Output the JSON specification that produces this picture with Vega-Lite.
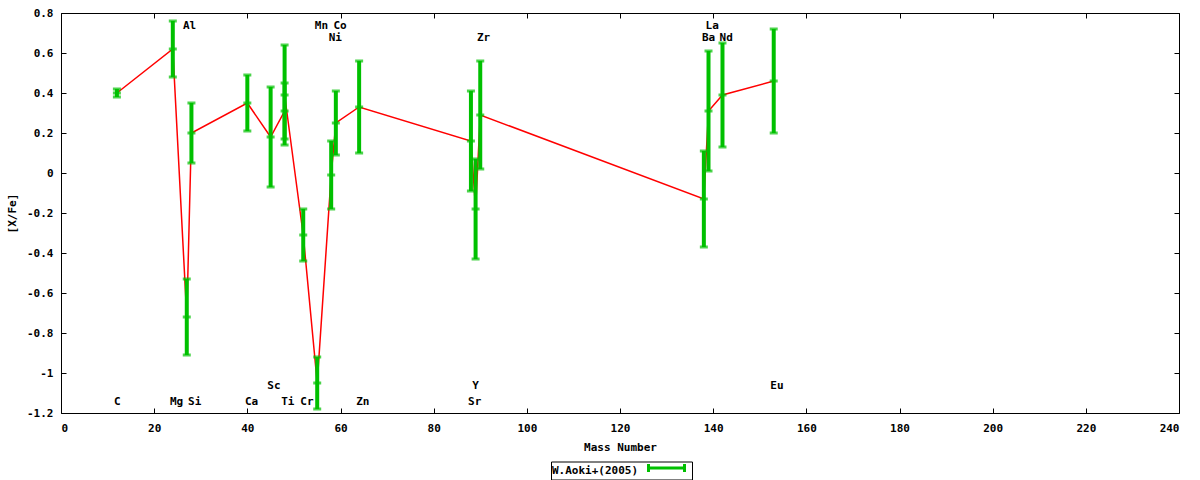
{
  "$schema": "https://vega.github.io/schema/vega-lite/v6.json",
  "width": 1118,
  "height": 400,
  "autosize": {"type": "none"},
  "padding": {"left": 61, "top": 13, "right": 21, "bottom": 67},
  "background": "white",
  "config": {
    "view": {"stroke": "#000", "strokeWidth": 1},
    "font": "DejaVu Sans Mono",
    "axis": {
      "grid": false,
      "domain": false,
      "tickSize": -5,
      "tickColor": "#000",
      "labelFont": "DejaVu Sans Mono",
      "labelFontWeight": "bold",
      "labelFontSize": 11,
      "labelColor": "#000",
      "titleFont": "DejaVu Sans Mono",
      "titleFontWeight": "bold",
      "titleFontSize": 11,
      "titleColor": "#000"
    }
  },
  "datasets": {
    "pts": [
      {"ord": 1, "el": "C", "mass": 12, "val": 0.40, "lo": 0.38, "hi": 0.42},
      {"ord": 2, "el": "Mg", "mass": 24, "val": 0.62, "lo": 0.48, "hi": 0.76},
      {"ord": 3, "el": "Al", "mass": 27, "val": -0.72, "lo": -0.91, "hi": -0.53},
      {"ord": 4, "el": "Si", "mass": 28, "val": 0.20, "lo": 0.05, "hi": 0.35},
      {"ord": 5, "el": "Ca", "mass": 40, "val": 0.35, "lo": 0.21, "hi": 0.49},
      {"ord": 6, "el": "Sc", "mass": 45, "val": 0.18, "lo": -0.07, "hi": 0.43},
      {"ord": 7, "el": "Ti", "mass": 48, "val": 0.31, "lo": 0.17, "hi": 0.45},
      {"ord": 8, "el": "Ti", "mass": 48, "val": 0.39, "lo": 0.14, "hi": 0.64},
      {"ord": 9, "el": "Cr", "mass": 52, "val": -0.31, "lo": -0.44, "hi": -0.18},
      {"ord": 10, "el": "Mn", "mass": 55, "val": -1.05, "lo": -1.18, "hi": -0.92},
      {"ord": 11, "el": "Ni", "mass": 58, "val": -0.01, "lo": -0.18, "hi": 0.16},
      {"ord": 12, "el": "Co", "mass": 59, "val": 0.25, "lo": 0.09, "hi": 0.41},
      {"ord": 13, "el": "Zn", "mass": 64, "val": 0.33, "lo": 0.10, "hi": 0.56},
      {"ord": 14, "el": "Sr", "mass": 88, "val": 0.16, "lo": -0.09, "hi": 0.41},
      {"ord": 15, "el": "Y", "mass": 89, "val": -0.18, "lo": -0.43, "hi": 0.07},
      {"ord": 16, "el": "Zr", "mass": 90, "val": 0.29, "lo": 0.02, "hi": 0.56},
      {"ord": 17, "el": "Ba", "mass": 138, "val": -0.13, "lo": -0.37, "hi": 0.11},
      {"ord": 18, "el": "La", "mass": 139, "val": 0.31, "lo": 0.01, "hi": 0.61},
      {"ord": 19, "el": "Nd", "mass": 142, "val": 0.39, "lo": 0.13, "hi": 0.65},
      {"ord": 20, "el": "Eu", "mass": 153, "val": 0.46, "lo": 0.20, "hi": 0.72}
    ],
    "labels": [
      {"el": "Al", "lx": 27.6, "ly": 0.735},
      {"el": "Mn", "lx": 55.9, "ly": 0.735},
      {"el": "Co", "lx": 59.9, "ly": 0.735},
      {"el": "La", "lx": 139.8, "ly": 0.735},
      {"el": "Ni", "lx": 58.9, "ly": 0.675},
      {"el": "Zr", "lx": 90.7, "ly": 0.675},
      {"el": "Ba", "lx": 139.0, "ly": 0.675},
      {"el": "Nd", "lx": 142.8, "ly": 0.675},
      {"el": "Sc", "lx": 45.7, "ly": -1.067},
      {"el": "Y", "lx": 89.0, "ly": -1.067},
      {"el": "Eu", "lx": 153.7, "ly": -1.067},
      {"el": "C", "lx": 12.1, "ly": -1.147},
      {"el": "Mg", "lx": 24.8, "ly": -1.147},
      {"el": "Si", "lx": 28.7, "ly": -1.147},
      {"el": "Ca", "lx": 40.9, "ly": -1.147},
      {"el": "Ti", "lx": 48.7, "ly": -1.147},
      {"el": "Cr", "lx": 52.8, "ly": -1.147},
      {"el": "Zn", "lx": 64.8, "ly": -1.147},
      {"el": "Sr", "lx": 88.8, "ly": -1.147}
    ]
  },
  "layer": [
    {
      "data": {"name": "pts"},
      "mark": {"type": "line", "color": "#ff0000", "strokeWidth": 1.5},
      "encoding": {
        "x": {
          "field": "mass", "type": "quantitative",
          "scale": {"domain": [0, 240], "nice": false, "zero": false},
          "axis": {"orient": "bottom", "values": [0, 20, 40, 60, 80, 100, 120, 140, 160, 180, 200, 220, 240], "format": "d", "title": "Mass Number", "labelPadding": 14, "titlePadding": 8}
        },
        "y": {
          "field": "val", "type": "quantitative",
          "scale": {"domain": [-1.2, 0.8], "nice": false, "zero": false},
          "axis": {"orient": "left", "values": [-1.2, -1, -0.8, -0.6, -0.4, -0.2, 0, 0.2, 0.4, 0.6, 0.8], "labelExpr": "datum.value < 0 ? '-' + format(-datum.value, '~g') : format(datum.value, '~g')", "title": "[X/Fe]", "labelPadding": 13, "titlePadding": 9}
        },
        "order": {"field": "ord", "type": "quantitative"}
      }
    },
    {
      "data": {"name": "pts"},
      "mark": {"type": "rule", "strokeWidth": 4},
      "encoding": {
        "x": {"field": "mass", "type": "quantitative", "axis": null},
        "y": {"field": "lo", "type": "quantitative", "axis": null},
        "y2": {"field": "hi"},
        "color": {
          "datum": "W.Aoki+(2005)", "type": "nominal",
          "scale": {"range": ["#00c000"]},
          "legend": {
            "orient": "none", "legendX": 490, "legendY": 448.5,
            "title": "W.Aoki+(2005)", "titleOrient": "left",
            "titleFont": "DejaVu Sans Mono", "titleFontWeight": "bold", "titleFontSize": 11, "titleColor": "#000",
            "titlePadding": 22,
            "labelExpr": "''", "labelOffset": 0,
            "symbolType": "M-4.5,-1V1M-4.5,0H4.5M4.5,-1V1",
            "symbolSize": 64, "symbolStrokeWidth": 3,
            "strokeColor": "#000", "padding": 1
          }
        }
      }
    },
    {
      "data": {"name": "pts"},
      "mark": {"type": "tick", "orient": "horizontal", "color": "#00c000", "size": 8, "thickness": 3},
      "encoding": {
        "x": {"field": "mass", "type": "quantitative", "axis": null},
        "y": {"field": "lo", "type": "quantitative", "axis": null}
      }
    },
    {
      "data": {"name": "pts"},
      "mark": {"type": "tick", "orient": "horizontal", "color": "#00c000", "size": 8, "thickness": 3},
      "encoding": {
        "x": {"field": "mass", "type": "quantitative", "axis": null},
        "y": {"field": "val", "type": "quantitative", "axis": null}
      }
    },
    {
      "data": {"name": "pts"},
      "mark": {"type": "tick", "orient": "horizontal", "color": "#00c000", "size": 8, "thickness": 3},
      "encoding": {
        "x": {"field": "mass", "type": "quantitative", "axis": null},
        "y": {"field": "hi", "type": "quantitative", "axis": null}
      }
    },
    {
      "data": {"name": "labels"},
      "mark": {"type": "text", "font": "DejaVu Sans Mono", "fontWeight": "bold", "fontSize": 11, "color": "#000", "align": "center", "baseline": "middle"},
      "encoding": {
        "x": {"field": "lx", "type": "quantitative", "axis": null},
        "y": {"field": "ly", "type": "quantitative", "axis": null},
        "text": {"field": "el"}
      }
    },
    {
      "data": {"name": "pts"},
      "mark": {"type": "point", "opacity": 0},
      "encoding": {
        "x": {"field": "mass", "type": "quantitative", "axis": {"orient": "top", "values": [0, 20, 40, 60, 80, 100, 120, 140, 160, 180, 200, 220, 240], "labels": false, "title": null}},
        "y": {"field": "val", "type": "quantitative", "axis": {"orient": "right", "values": [-1.2, -1, -0.8, -0.6, -0.4, -0.2, 0, 0.2, 0.4, 0.6, 0.8], "labels": false, "title": null}}
      }
    }
  ]
}
